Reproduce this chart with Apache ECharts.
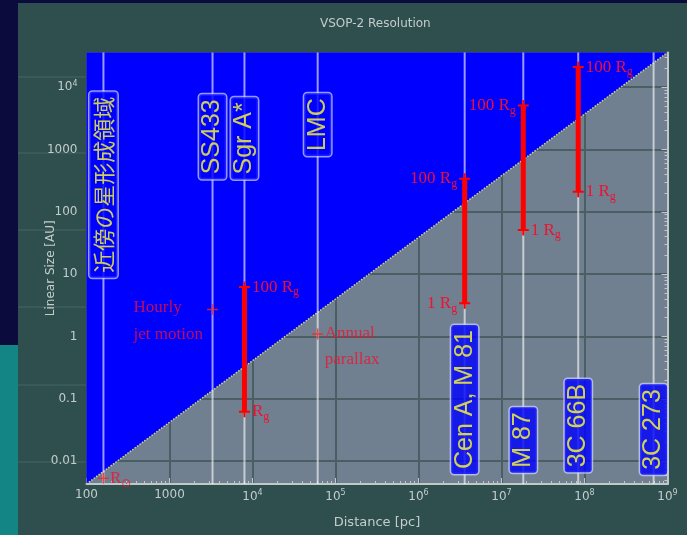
<!DOCTYPE html>
<html>
<head>
<meta charset="utf-8">
<script src="https://cdn.jsdelivr.net/npm/echarts@6/dist/echarts.min.js"></script>
<style>
  html, body { margin: 0; padding: 0; background: #2f4f4f; }
  #chart { width: 687px; height: 535px; }
</style>
</head>
<body>
<div id="chart"></div>
<script>
// Sources marked along the distance axis (pc)
const sourceNames = ['近傍の星形成領域', 'SS433', 'Sgr A*', 'LMC', 'Cen A, M 81', 'M 87', '3C 66B', '3C 273'];
const sourceDistancePc = [160, 3300, 8000, 61000, 3.6e6, 1.83e7, 8.4e7, 6.8e8];

// Black holes: gravitational radius R_g in AU; each bar spans 1 R_g to 100 R_g
const bhNames = ['Sgr A*', 'Cen A, M 81', 'M 87', '3C 66B'];
const bhRgAU = [0.062, 3.4, 51, 210];
const bhSpan = 100;
const bhLowerText = ['R_g', '1 R_g', '1 R_g', '1 R_g'];
const bhUpperText = ['100 R_g', '100 R_g', '100 R_g', '100 R_g'];

// Other reference scales
const featureText = ['Hourly\njet motion', 'Annual\nparallax', 'R_⊙'];
const featureSource = ['SS433', 'LMC', '近傍の星形成領域'];
const featureSizeAU = [2.7, 1.1, 0.0053];

// VSOP-2 resolution limit (linear size at a given distance)
const resolutionDistancePc = [100, 1e9];
const resolutionSizeAU = [0.0043, 36000];

// Axis ticks
const xTicks = [100, 1e3, 1e4, 1e5, 1e6, 1e7, 1e8, 1e9];
const xTickText = ['100', '1000', '10^4', '10^5', '10^6', '10^7', '10^8', '10^9'];
const yTicks = [0.01, 0.1, 1, 10, 100, 1000, 1e4];
const yTickText = ['0.01', '0.1', '1', '10', '100', '1000', '10^4'];

// ---------------------------------------------------------------------
const X_MIN = resolutionDistancePc[0], X_MAX = resolutionDistancePc[1];
const Y_MIN = resolutionSizeAU[0], Y_MAX = resolutionSizeAU[1];

const AXIS_TEXT = '#c4cccc';
const FRAME = '#c0c8c8';
const GRID_LINE = '#4a5f64';
const RED = '#ff0000';
const RED_TEXT = '#f01030';
const BOX_BLUE = '#0000ff';

// where the name boxes sit: top row hangs from this size, bottom row stands on this one
const TOP_ROW_AU = 7700;
const BOTTOM_ROW_AU = 0.0065;
const boxAtTop = [true, true, true, true, false, false, false, false];
const boxShift = [2.5, 0, -3, 1, -1.2, 0, 0.5, -2];

// which side each bar-end label goes: [lower, upper]
const bhLabelSide = [['right', 'right'], ['left', 'left'], ['right', 'left'], ['right', 'right']];

function minorTicks(lo, hi) {
  const out = [];
  for (let e = Math.floor(Math.log10(lo)); e <= Math.ceil(Math.log10(hi)); e++) {
    for (let k = 2; k <= 9; k++) {
      const v = k * Math.pow(10, e);
      if (v > lo && v < hi) out.push(v);
    }
  }
  return out;
}
const richSup = s => s.replace(/\^(\d+)/, '{sup|$1}');
const richSub = s => s.replace(/_(.+)$/, (m, g) => (g === '⊙' ? '{sun|' + g + '}' : '{sub|' + g + '}'));

function tickFormatter(ticks, texts) {
  return v => {
    const i = ticks.findIndex(t => Math.abs(Math.log10(t) - Math.log10(v)) < 1e-6);
    return i < 0 ? '' : richSup(texts[i]);
  };
}

const axisFont = { color: AXIS_TEXT, fontFamily: 'DejaVu Sans', fontSize: 12 };
const supRich = { sup: { color: AXIS_TEXT, fontFamily: 'DejaVu Sans', fontSize: 8, padding: [0, 0, 7, 0] } };
const redRich = {
  sub: { color: RED_TEXT, fontFamily: 'Liberation Serif', fontSize: 12, padding: [10, 0, 0, 0] },
  sun: { color: RED_TEXT, fontFamily: 'DejaVu Sans', fontSize: 12, padding: [11, 0, 0, 0] }
};
const PLUS_BOLD = 'path://M0,4.5H11V6.5H0Z M4.5,0H6.5V11H4.5Z';
const PLUS_THIN = 'path://M0,4.75H11V6.25H0Z M4.75,0H6.25V11H4.75Z';

const distanceOf = name => sourceDistancePc[sourceNames.indexOf(name)];

// ---------------------------------------------------------------------
const series = [];

// area above the resolution limit (resolvable region)
series.push({
  type: 'line',
  name: 'VSOP-2 limit',
  data: resolutionDistancePc.map((d, i) => [d, resolutionSizeAU[i]]),
  symbol: 'none',
  lineStyle: { color: '#d8d47a', width: 1.5, type: 'dotted' },
  areaStyle: { color: BOX_BLUE, opacity: 1, origin: 'end' },
  z: 1, silent: true
});

// vertical lines at each source distance
series.push({
  type: 'custom',
  name: 'sources',
  data: sourceDistancePc.map(d => [d, Y_MAX]),
  encode: { x: 0, y: 1 },
  renderItem: (params, api) => {
    const d = api.value(0);
    const p0 = api.coord([d, Y_MAX]);
    const p1 = api.coord([d, Y_MIN]);
    return {
      type: 'line',
      shape: { x1: p0[0], y1: p0[1], x2: p1[0], y2: p1[1] },
      style: { stroke: 'rgba(255,255,255,0.6)', lineWidth: 2 }
    };
  },
  z: 3, silent: true
});

// source name boxes
series.push({
  type: 'scatter',
  name: 'source names',
  symbolSize: 0,
  z: 5, silent: true,
  data: sourceNames.map((n, i) => {
    const cjk = /[\u3040-\u9fff]/.test(n);
    return {
      name: n,
      value: [sourceDistancePc[i], boxAtTop[i] ? TOP_ROW_AU : BOTTOM_ROW_AU],
      label: {
        align: boxAtTop[i] ? 'right' : 'left',
        offset: [boxShift[i], 0],
        fontFamily: cjk ? 'Noto Sans CJK JP' : 'Liberation Sans',
        fontSize: cjk ? 22 : 25,
        lineHeight: cjk ? 24 : 23
      }
    };
  }),
  label: {
    show: true, formatter: '{b}', position: 'inside', rotate: 90, verticalAlign: 'middle',
    color: '#ffff30', backgroundColor: BOX_BLUE,
    borderColor: 'rgba(205,210,255,0.9)', borderWidth: 1.5, borderRadius: 3, padding: [2, 5]
  }
});

// black hole bars, 1 R_g .. 100 R_g
bhNames.forEach((n, i) => {
  const d = distanceOf(n);
  series.push({
    type: 'line',
    name: n,
    z: 6, silent: true,
    data: [
      { value: [d, bhRgAU[i]], label: { formatter: richSub(bhLowerText[i]), position: bhLabelSide[i][0] } },
      { value: [d, bhRgAU[i] * bhSpan], label: { formatter: richSub(bhUpperText[i]), position: bhLabelSide[i][1] } }
    ],
    lineStyle: { color: RED, width: 5 },
    symbol: PLUS_BOLD, symbolSize: 11,
    itemStyle: { color: RED },
    label: {
      show: true, distance: 2,
      color: RED_TEXT, fontFamily: 'Liberation Serif', fontSize: 17, rich: redRich
    }
  });
});

// reference scales: hourly jet motion, annual parallax, solar radius
const featureLabel = [
  { position: [-73.5, -10], align: 'left', verticalAlign: 'top', lineHeight: 27 },
  { position: [12.5, -7.5], align: 'left', verticalAlign: 'top', lineHeight: 26 },
  { position: 'right', distance: 1 }
];
series.push({
  type: 'scatter',
  name: 'scales',
  z: 6, silent: true,
  symbol: PLUS_THIN, symbolSize: 11,
  itemStyle: { color: '#ff2020' },
  data: featureText.map((t, i) => ({
    value: [distanceOf(featureSource[i]), featureSizeAU[i]],
    label: Object.assign({ formatter: richSub(t) }, featureLabel[i])
  })),
  label: {
    show: true, color: RED_TEXT, fontFamily: 'Liberation Serif', fontSize: 17, rich: redRich
  }
});

// ---------------------------------------------------------------------
const option = {
  animation: false,
  backgroundColor: '#2f4f4f',
  title: {
    text: 'VSOP-2 Resolution',
    left: 315, top: 13,
    textStyle: { color: AXIS_TEXT, fontFamily: 'DejaVu Sans', fontSize: 12, fontWeight: 'normal' }
  },
  graphic: [
    { type: 'rect', shape: { x: 0, y: 0, width: 18, height: 345 }, style: { fill: '#0b0b3d' }, silent: true },
    { type: 'rect', shape: { x: 0, y: 345, width: 18, height: 190 }, style: { fill: '#138585' }, silent: true },
    { type: 'rect', shape: { x: 0, y: 0, width: 687, height: 3 }, style: { fill: '#0b0b3d' }, silent: true }
  ].concat([77, 153, 230, 307, 385, 462].map(y => ({
    type: 'line', shape: { x1: 18, y1: y, x2: 86, y2: y },
    style: { stroke: '#3f5e5c', lineWidth: 1.5 }, silent: true, z: -1
  }))),
  grid: {
    left: 86.5, right: 19.5, top: 52.5, bottom: 51,
    show: true, backgroundColor: '#708090', borderWidth: 0
  },
  xAxis: [
    {
      type: 'log', min: X_MIN, max: X_MAX, position: 'bottom',
      name: 'Distance [pc]', nameLocation: 'middle', nameGap: 32, nameMoveOverlap: false,
      nameTextStyle: { color: AXIS_TEXT, fontFamily: 'DejaVu Sans', fontSize: 13 },
      axisLine: { show: true, lineStyle: { color: FRAME, width: 2 } },
      axisTick: { show: true, inside: true, length: 6, customValues: xTicks, lineStyle: { color: FRAME, width: 1 } },
      axisLabel: Object.assign({ customValues: xTicks, formatter: tickFormatter(xTicks, xTickText), margin: 5, rich: supRich }, axisFont),
      splitLine: { show: true, lineStyle: { color: GRID_LINE, width: 2 } }
    },
    {
      type: 'log', min: X_MIN, max: X_MAX, position: 'bottom',
      axisLine: { show: false },
      axisTick: { show: true, inside: true, length: 3, customValues: minorTicks(X_MIN, X_MAX), lineStyle: { color: FRAME, width: 1 } },
      axisLabel: { show: false },
      splitLine: { show: false }
    }
  ],
  yAxis: [
    {
      type: 'log', min: Y_MIN, max: Y_MAX, position: 'left',
      name: 'Linear Size [AU]', nameLocation: 'middle', nameGap: 30, nameMoveOverlap: false,
      nameTextStyle: { color: AXIS_TEXT, fontFamily: 'DejaVu Sans', fontSize: 12 },
      axisLine: { show: false },
      axisTick: { show: false, customValues: yTicks },
      axisLabel: Object.assign({ customValues: yTicks, formatter: tickFormatter(yTicks, yTickText), margin: 9, rich: supRich }, axisFont),
      splitLine: { show: true, lineStyle: { color: GRID_LINE, width: 2 } }
    },
    {
      type: 'log', min: Y_MIN, max: Y_MAX, position: 'right',
      axisLine: { show: true, lineStyle: { color: FRAME, width: 2 } },
      axisTick: { show: true, inside: true, length: 6, customValues: yTicks, lineStyle: { color: FRAME, width: 1 } },
      axisLabel: { show: false },
      splitLine: { show: false }
    },
    {
      type: 'log', min: Y_MIN, max: Y_MAX, position: 'right',
      axisLine: { show: false },
      axisTick: { show: true, inside: true, length: 3, customValues: minorTicks(Y_MIN, Y_MAX), lineStyle: { color: FRAME, width: 1 } },
      axisLabel: { show: false },
      splitLine: { show: false }
    }
  ],
  series: series
};

const chart = echarts.init(document.getElementById('chart'));
chart.setOption(option);
</script>
</body>
</html>
